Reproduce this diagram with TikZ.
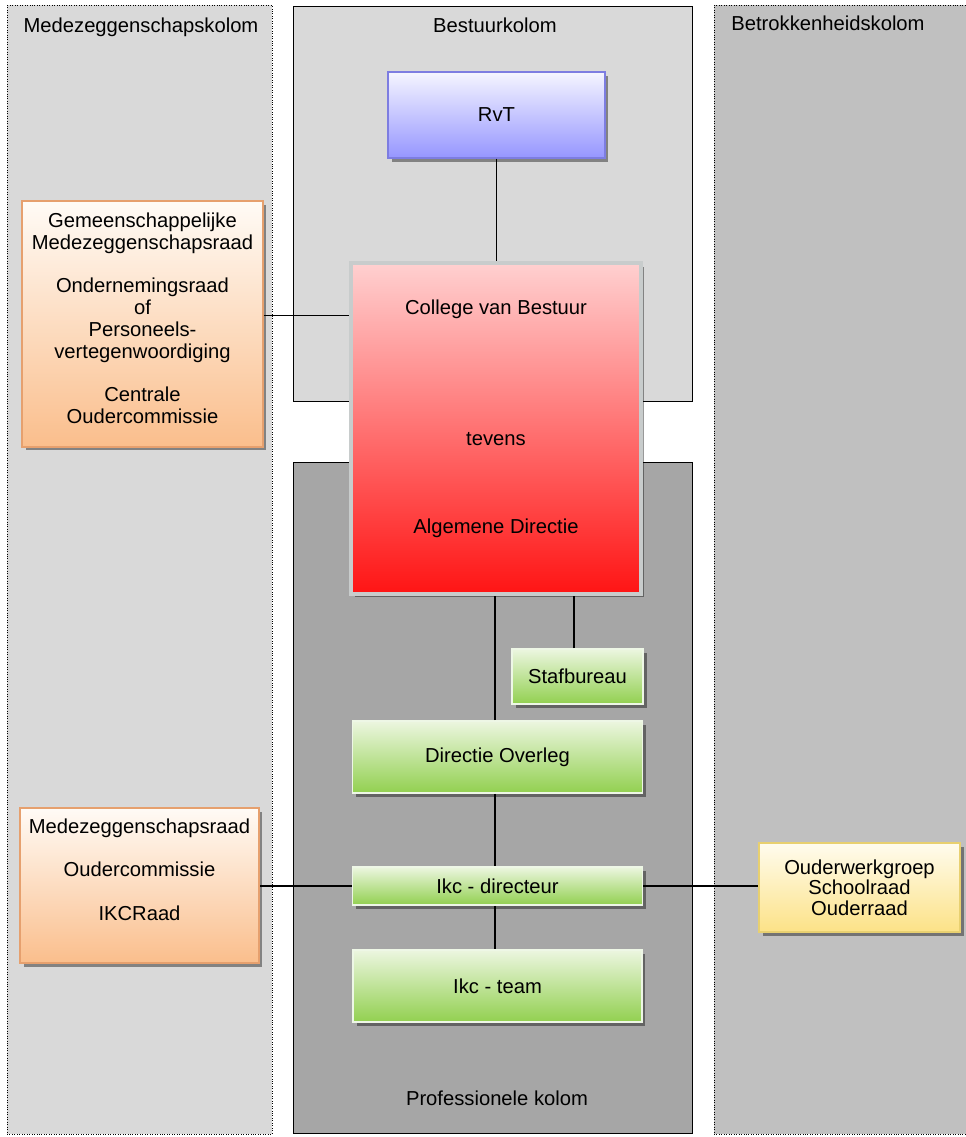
\documentclass[tikz,border=0pt]{standalone}
\usepackage{fontspec}
\setmainfont{Liberation Sans}
\usetikzlibrary{shadows}
\definecolor{kolomlicht}{HTML}{D9D9D9}
\definecolor{kolomdonker}{HTML}{A6A6A6}
\definecolor{kolomrechts}{HTML}{C0C0C0}
\begin{document}
\begin{tikzpicture}[x=0.02cm,y=-0.02cm,
    every node/.style={font=\fontsize{11.5}{12.5}\selectfont},
    orgbox/.style={rectangle,align=center,inner sep=0pt,
      drop shadow={shadow xshift=2pt,shadow yshift=-2pt,fill=black,opacity=0.4}},
    blauw/.style={orgbox,top color=blue!4,bottom color={rgb,255:red,150;green,150;blue,255},draw={rgb,255:red,125;green,125;blue,225},line width=0.8pt},
    rood/.style={orgbox,top color={rgb,255:red,255;green,208;blue,208},bottom color={rgb,255:red,255;green,20;blue,20},draw={rgb,255:red,200;green,204;blue,204},line width=2.2pt},
    oranje/.style={orgbox,top color={rgb,255:red,255;green,251;blue,246},bottom color={rgb,255:red,250;green,190;blue,140},draw={rgb,255:red,230;green,160;blue,110},line width=0.8pt},
    groen/.style={orgbox,top color={rgb,255:red,236;green,246;blue,224},bottom color={rgb,255:red,146;green,208;blue,80},draw={rgb,255:red,238;green,247;blue,230},line width=0.9pt},
    geel/.style={orgbox,top color={rgb,255:red,255;green,252;blue,238},bottom color={rgb,255:red,252;green,226;blue,135},draw={rgb,255:red,232;green,208;blue,112},line width=0.8pt},
    lijn/.style={line width=0.8pt}]
  \useasboundingbox (0,0) rectangle (965,1137);
  % kolommen
  \draw [densely dotted,fill=kolomlicht] (7,5) rectangle (272,1134);
  \draw [fill=kolomlicht] (293,6) rectangle (692,401);
  \draw [fill=kolomdonker] (293,462) rectangle (692,1133);
  \draw [densely dotted,fill=kolomrechts] (714,5) rectangle (980,1134);
  \node [anchor=base] (tmz) at (141,32) {Medezeggenschapskolom};
  \node [anchor=base] (tbk) at (495,32) {Bestuurkolom};
  \node [anchor=base] (tbh) at (828,30) {Betrokkenheidskolom};
  \node [anchor=base] (tpk) at (497,1105) {Professionele kolom};
  % organen
  \node [blauw,minimum width=4.34cm,minimum height=1.72cm] (rvt) at (496.5,115) {RvT};
  \node [rood,minimum width=5.8cm,minimum height=6.62cm] (cvb) at (496,428.5) {};
  \node [anchor=base] (cvb1) at (496,314) {College van Bestuur};
  \node [anchor=base] (cvb2) at (496,445) {tevens};
  \node [anchor=base] (cvb3) at (496,533) {Algemene Directie};
  \node [oranje,minimum width=4.82cm,minimum height=4.92cm] (gmr) at (142.5,324) {};
  \node [align=center] (gmrtekst) at (142.5,318)
    {Gemeenschappelijke\\Medezeggenschapsraad\\[12pt]Ondernemingsraad\\of\\Personeels-\\vertegenwoordiging\\[12pt]Centrale\\Oudercommissie};
  \node [groen,minimum width=2.62cm,minimum height=1.1cm] (staf) at (577.5,676.5) {Stafbureau};
  \node [groen,minimum width=5.8cm,minimum height=1.44cm] (dov) at (497.5,757) {Directie Overleg};
  \node [groen,minimum width=5.8cm,minimum height=0.76cm] (ikcd) at (497.5,886) {Ikc - directeur};
  \node [groen,minimum width=5.78cm,minimum height=1.44cm] (ikct) at (497.5,986) {Ikc - team};
  \node [oranje,minimum width=4.78cm,minimum height=3.1cm] (mr) at (139.5,885.5) {};
  \node [anchor=base] (mr1) at (139.5,833) {Medezeggenschapsraad};
  \node [anchor=base] (mr2) at (139.5,876) {Oudercommissie};
  \node [anchor=base] (mr3) at (139.5,920) {IKCRaad};
  \node [geel,minimum width=4.02cm,minimum height=1.78cm,font=\fontsize{11.5}{11.7}\selectfont] (owg) at (859.5,887.5)
    {Ouderwerkgroep\\Schoolraad\\Ouderraad};
  % verbindingen
  \draw [lijn] (rvt.south) -- (rvt.south |- cvb.north);
  \draw [lijn] ([yshift=5pt]gmr.east) -- ([yshift=5pt]gmr.east -| cvb.west);
  \draw [lijn] ([xshift=-1.5pt]dov.north) -- ([xshift=-1.5pt]dov.north |- cvb.south);
  \draw [lijn] ([xshift=-2pt]staf.north) -- ([xshift=-2pt]staf.north |- cvb.south);
  \draw [lijn] ([xshift=-1.5pt]dov.south) -- ([xshift=-1.5pt]ikcd.north);
  \draw [lijn] ([xshift=-1.5pt]ikcd.south) -- ([xshift=-1.5pt]ikct.north);
  \draw [lijn] (ikcd.west) -- (ikcd.west -| mr.east);
  \draw [lijn] (ikcd.east) -- (ikcd.east -| owg.west);
\end{tikzpicture}
\end{document}
